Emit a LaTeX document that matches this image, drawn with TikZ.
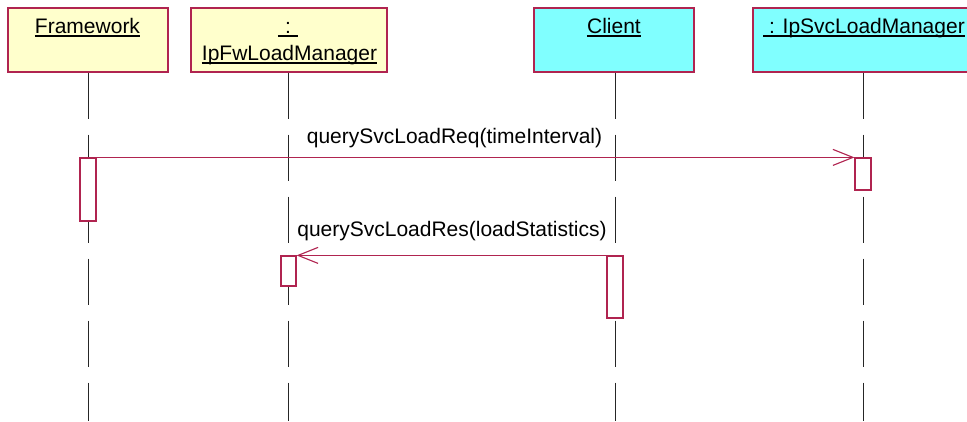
\documentclass[tikz,border=0pt]{standalone}
\usepackage{fontspec}
\setmainfont{Liberation Sans}
\usetikzlibrary{arrows.meta}
\definecolor{roseline}{RGB}{176,36,80}
\definecolor{roseyellow}{RGB}{255,255,204}
\definecolor{rosecyan}{RGB}{128,255,255}
\begin{document}
\begin{tikzpicture}[x=1pt,y=-1pt,
  objbox/.style={draw=roseline,line width=1.3pt,minimum height=64pt,inner sep=0pt,anchor=center},
  lbl/.style={inner sep=0pt,anchor=base,font=\fontsize{21}{25}\selectfont},
  lifeline/.style={draw=black!85,line width=0.9pt,dash pattern=on 46pt off 16pt},
  act/.style={draw=roseline,fill=white,line width=1.2pt,inner sep=0pt,minimum width=16pt},
  msg/.style={draw=roseline,line width=1.1pt,-{Straight Barb[length=20pt,width=16pt,line width=1.1pt]}},
  uline/.style={line width=1.3pt}]
\useasboundingbox (0,0) rectangle (967,421);
% object boxes
\node[objbox,fill=roseyellow,minimum width=160pt] (fw) at (88,40) {};
\node[objbox,fill=roseyellow,minimum width=196pt] (fwlm) at (289,40) {};
\node[objbox,fill=rosecyan,minimum width=160pt] (cl) at (614,40) {};
\node[objbox,fill=rosecyan,minimum width=220pt] (svc) at (863,40) {};
% titles
\node[lbl] (tfw) at (87.5,33) {Framework};
\node[lbl] (tfwa) at (288,33) {\kern7pt:\kern7pt};
\node[lbl] (tfwb) at (289.5,60) {IpFwLoadManager};
\node[lbl] (tcl) at (614,33) {Client};
\node[lbl] (tsvc) at (864,33) {\ : IpSvcLoadManager};
\foreach \t in {tfw,tfwa,tfwb,tcl,tsvc}{
  \draw[uline] ([yshift=-3pt]\t.base west) -- ([yshift=-3pt]\t.base east);
}
% lifelines
\coordinate (fwend) at (88,421);
\coordinate (fwlmend) at (288,421);
\coordinate (clend) at (615,421);
\coordinate (svcend) at (863,421);
\draw[lifeline] (fw.south) -- (fwend);
\draw[lifeline] (fwlm.south -| fwlmend) -- (fwlmend);
\draw[lifeline] (cl.south -| clend) -- (clend);
\draw[lifeline] (svc.south) -- (svcend);
% activations
\node[act,minimum height=63pt] (fwact) at (88,189.5) {};
\node[act,minimum height=32pt] (svcact) at (863,174) {};
\node[act,minimum width=15pt,minimum height=30pt] (fwlmact) at (288.5,271) {};
\node[act,minimum height=62pt] (clact) at (615,287) {};
% messages
\draw[msg] (fwact.north east) -- (svcact.north west);
\draw[msg] (clact.north west) -- (fwlmact.north east);
\node[lbl] (m1) at (454.5,143) {querySvcLoadReq(timeInterval)};
\node[lbl] (m2) at (452,236) {querySvcLoadRes(loadStatistics)};
\end{tikzpicture}
\end{document}
